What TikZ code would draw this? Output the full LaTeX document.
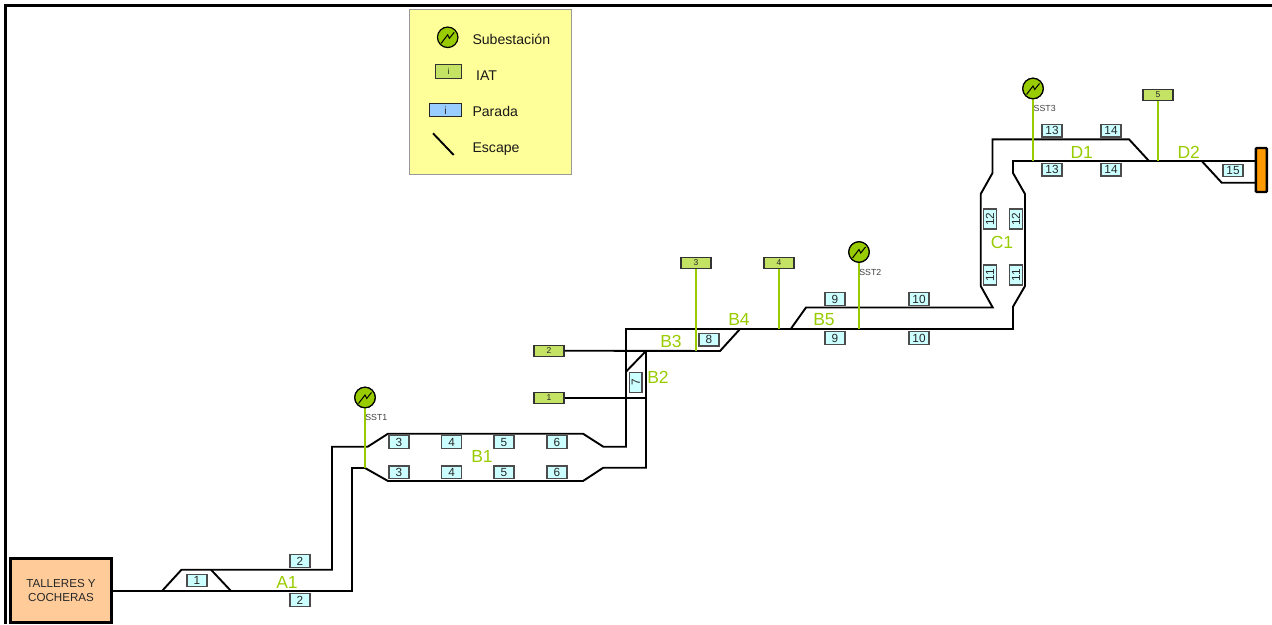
\documentclass[tikz,border=0pt]{standalone}
\usepackage{fontspec}
\setmainfont{Liberation Sans}
\definecolor{trackgreen}{HTML}{99CC00}
\definecolor{iatfill}{HTML}{C4E264}
\definecolor{stopfill}{HTML}{CCFFFF}
\definecolor{legendfill}{HTML}{FFFF99}
\definecolor{legendblue}{HTML}{99CCFF}
\definecolor{depotfill}{HTML}{FFCC99}
\definecolor{endfill}{HTML}{FF9900}
\newcommand{\fsz}[1]{\fontsize{#1pt}{#1pt}\selectfont}
\tikzset{
  track/.style={line width=1.9pt,black,line join=miter},
  feeder/.style={line width=2pt,trackgreen},
  stopbox/.style={draw=black!70,line width=1.2pt,fill=stopfill,minimum width=20pt,minimum height=12.5pt,inner sep=0pt,text=black!85,font=\fsz{11.8}},
  iatbox/.style={draw=black!80,line width=1.2pt,fill=iatfill,minimum width=30pt,minimum height=11pt,inner sep=0pt,text=black!85,font=\fsz{8.5}},
  sector/.style={text=trackgreen,font=\fsz{17.5},inner sep=0pt},
  subst/.style={circle,draw=black,line width=1.2pt,fill=trackgreen,minimum size=20.5pt,inner sep=0pt},
  tag/.style={text=black!75,font=\fsz{8.8},inner sep=0pt},
  legendtext/.style={anchor=base west,inner sep=0pt,text=black!90,font=\fsz{14.1}},
  bolt/.style={line width=1pt,black}
}
\usetikzlibrary{calc}
\newcommand{\boltat}[1]{\draw[bolt] ($(#1)+(-6.5,6)$) -- ($(#1)+(0,-2.5)$) -- ($(#1)+(1.7,1)$) -- ($(#1)+(6.5,-5)$);}
\begin{document}
\begin{tikzpicture}[x=1pt,y=-1pt]
\useasboundingbox (0,0) rectangle (1272,624);
% frame
\coordinate (fa) at (5.5,624);
\coordinate (fb) at (5.5,5.5);
\coordinate (fc) at (1272,5.5);
\draw[line width=2.2pt] (fa) -- (fb) -- (fc);

% legend
\node[draw=black!40,line width=1pt,fill=legendfill,minimum width=162pt,minimum height=165pt,inner sep=0pt] (legend) at (490,91.7) {};
\node[subst] (legsub) at (447.7,37.3) {};
\boltat{legsub}
\node[legendtext] (legsubt) at (472.3,44) {Subestación};
\node[iatbox,minimum width=26.5pt,minimum height=14pt] (legiat) at (448.5,71.2) {i};
\node[legendtext] (legiatt) at (476,80) {IAT};
\node[draw=black!85,line width=1.2pt,fill=legendblue,minimum width=32.5pt,minimum height=13pt,inner sep=0pt,text=black!85,font=\fsz{10.5}] (legstop) at (445.5,110.2) {i};
\node[legendtext] (legstopt) at (472.3,116) {Parada};
\coordinate (legesca) at (433,133.3);
\coordinate (legescb) at (453.7,155);
\draw[track] (legesca) -- (legescb);
\node[legendtext] (legesct) at (472.3,152.7) {Escape};

% depot and end
\node[draw=black,line width=2.4pt,fill=depotfill,minimum width=101pt,minimum height=64pt,inner sep=0pt,align=center,text=black!85] (depot) at (61,590.5) {\fsz{11.6}TALLERES Y\\[1.5pt]\fsz{11.6}COCHERAS};
\node[draw=black,line width=2.4pt,fill=endfill,rounded corners=1pt,minimum width=11pt,minimum height=44pt,inner sep=0pt] (endbox) at (1261.4,170) {};

% feeder junctions
\coordinate (j1) at (365,468);
\coordinate (j2) at (696,351);
\coordinate (j3) at (779,329);
\coordinate (j4) at (859,329);
\coordinate (j5) at (1033,161);
\coordinate (j6) at (1158,161);
% substations, IATs
\node[subst] (sst1) at (365,397.5) {};
\node[subst] (sst2) at (859,252) {};
\node[subst] (sst3) at (1033,88.5) {};
\node[iatbox] (iat1) at (549,397.7) {1};
\node[iatbox] (iat2) at (549,350.7) {2};
\node[iatbox] (iat3) at (696,263) {3};
\node[iatbox] (iat4) at (779,263) {4};
\node[iatbox] (iat5) at (1158,95) {5};

% tracks
\draw[track] (depot.east |- 0,591) -- (352,591) -- (352,468) -- (j1) -- (388,481) -- (583,481) -- (603.3,467.7) -- (646,467.7) -- (646,351);
\draw[track] (162,591) -- (181.5,569.7) -- (332,569.7) -- (332,446.7) -- (367.7,446.7) -- (388,433.7) -- (583,433.7) -- (603.3,446.7) -- (626,446.7) -- (626,329) -- (1013,329) -- (1013,306.7) -- (1025,286) -- (1025,194) -- (1013,173) -- (1013,161) -- (1255.7,161);
\draw[track] (211,569.7) -- (231,591);
\draw[track] (626,371.7) -- (646,351);
\draw[track] (iat2.east) -- (720,351) -- (740,329);
\draw[track] (iat1.east) -- (646,397.7);
\draw[track] (790.7,329) -- (806,307.5) -- (992.7,307.5) -- (980.7,286) -- (980.7,194) -- (992.5,173) -- (992.5,139.3) -- (1129,139.3) -- (1149,161);
\draw[track] (1201.7,161) -- (1221.7,182.7) -- (1255.7,182.7);

% feeders
\draw[feeder] (sst1) -- (j1);
\draw[feeder] (sst2) -- (j4);
\draw[feeder] (sst3) -- (j5);
\draw[feeder] (iat3) -- (j2);
\draw[feeder] (iat4) -- (j3);
\draw[feeder] (iat5) -- (j6);
\node[subst] at (sst1) {};
\node[subst] at (sst2) {};
\node[subst] at (sst3) {};
\boltat{sst1}
\boltat{sst2}
\boltat{sst3}
\node[iatbox] at (iat3) {3};
\node[iatbox] at (iat4) {4};
\node[iatbox] at (iat5) {5};

% substation tags
\node[tag] (t1) at (376.3,417.7) {SST1};
\node[tag] (t2) at (870.3,272.7) {SST2};
\node[tag] (t3) at (1044.7,108.7) {SST3};

% stops
\node[stopbox] (s1) at (197,580.5) {1};
\node[stopbox] (s2a) at (300,561) {2};
\node[stopbox] (s2b) at (300,600) {2};
\node[stopbox] (s3a) at (399,442) {3};
\node[stopbox] (s3b) at (399,472.3) {3};
\node[stopbox] (s4a) at (451.7,442) {4};
\node[stopbox] (s4b) at (451.7,472.3) {4};
\node[stopbox] (s5a) at (504,442) {5};
\node[stopbox] (s5b) at (504,472.3) {5};
\node[stopbox] (s6a) at (557,442) {6};
\node[stopbox] (s6b) at (557,472.3) {6};
\node[stopbox,rotate=90] (s7) at (635.7,382.5) {7};
\node[stopbox] (s8) at (709,339.7) {8};
\node[stopbox] (s9a) at (835,299) {9};
\node[stopbox] (s9b) at (835,338) {9};
\node[stopbox] (s10a) at (919,299) {10};
\node[stopbox] (s10b) at (919,338) {10};
\node[stopbox,rotate=90] (s11a) at (990,275) {11};
\node[stopbox,rotate=90] (s11b) at (1016,275) {11};
\node[stopbox,rotate=90] (s12a) at (990,219) {12};
\node[stopbox,rotate=90] (s12b) at (1016,219) {12};
\node[stopbox] (s13a) at (1052,130.8) {13};
\node[stopbox] (s13b) at (1052,169.7) {13};
\node[stopbox] (s14a) at (1111,130.8) {14};
\node[stopbox] (s14b) at (1111,169.7) {14};
\node[stopbox] (s15) at (1233,170.5) {15};

% sector labels
\node[sector] (A1) at (287,582) {A1};
\node[sector] (B1) at (482,456.7) {B1};
\node[sector] (B2) at (658,377.7) {B2};
\node[sector] (B3) at (671,341.7) {B3};
\node[sector] (B4) at (739,319.3) {B4};
\node[sector] (B5) at (824,319.3) {B5};
\node[sector] (C1) at (1002,242.7) {C1};
\node[sector] (D1) at (1081.7,152.7) {D1};
\node[sector] (D2) at (1188.7,152.7) {D2};
\end{tikzpicture}
\end{document}
